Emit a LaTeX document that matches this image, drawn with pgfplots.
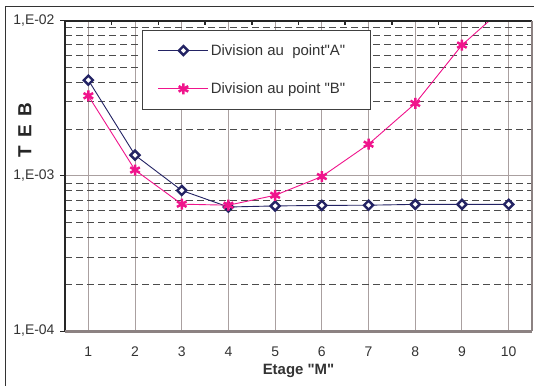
\documentclass[border=0pt]{standalone}
\usepackage{fontspec}
\setmainfont{Liberation Sans}[Ligatures=TeXOff]
\usepackage{pgfplots}
\pgfplotsset{compat=1.18}
\definecolor{navyA}{RGB}{35,35,100}
\definecolor{magB}{RGB}{240,20,140}
\definecolor{frameG}{RGB}{140,130,130}
\definecolor{gridG}{RGB}{170,160,160}
\begin{document}
\begin{tikzpicture}[x=1bp,y=1bp]
\useasboundingbox (0,0) rectangle (534,385);
\fill[white] (0,0) rectangle (534,385);
\draw[line width=1bp, black!80] (5,-5) -- (5,378) -- (540,378);
\begin{axis}[
  at={(65bp,54bp)}, anchor=south west,
  scale only axis, width=467bp, height=310.3bp,
  xmin=0.5, xmax=10.5,
  ymode=log, ymin=1e-4, ymax=1e-2,
  xtick={1,2,3,4,5,6,7,8,9,10},
  xticklabels={1,2,3,4,5,6,7,8,9,10},
  xtick pos=upper, xticklabel pos=lower,
  ytick pos=left,
  ytick={1e-4,1e-3,1e-2},
  yticklabels={{1,E-04},{1,E-03},{1,E-02}},
  minor ytick={2e-4,3e-4,4e-4,5e-4,6e-4,7e-4,8e-4,9e-4,2e-3,3e-3,4e-3,5e-3,6e-3,7e-3,8e-3,9e-3},
  tick align=outside,
  major tick length=5bp,
  minor tick length=0bp,
  major x tick style={draw=none},
  major y tick style={black!85, line width=1bp},
  extra x ticks={1.5,2.5,3.5,4.5,5.5,6.5,7.5,8.5,9.5},
  extra x tick labels={},
  extra x tick style={grid=none, tick align=inside, major tick length=4bp,
     major x tick style={draw=black!85, line width=1.5bp}},
  xmajorgrids, ymajorgrids, yminorgrids,
  major grid style={gridG, line width=1bp},
  minor grid style={black!70, line width=0.8bp, dash pattern=on 7bp off 4bp},
  axis line style={draw=none},
  clip mode=individual,
  tick label style={font=\fontsize{14}{16}\selectfont, text=black!80},
  xticklabel style={anchor=center, yshift=-16bp},
  yticklabel style={anchor=east, xshift=-2bp},
  xlabel={Etage "M"},
  ylabel={T\,\ E\,\ B},
  every axis x label/.style={at={(axis description cs:0.5,-0.13)}, anchor=center,
     font=\bfseries\fontsize{15}{17}\selectfont, text=black!80},
  every axis y label/.style={at={(axis description cs:-0.0857,0.648)}, rotate=90, anchor=center,
     font=\bfseries\fontsize{19}{21}\selectfont, text=black!85},
  legend style={at={(0.164,0.970)}, anchor=north west, draw=black!75, line width=0.8bp,
     fill=white, font=\fontsize{15}{17}\selectfont, text=black!80,
     inner xsep=16bp, inner ysep=12bp, row sep=22bp, cells={anchor=west}},
  legend image code/.code={\draw[mark repeat=2,mark phase=2,#1] plot coordinates {(0bp,0bp) (25bp,0bp) (50bp,0bp)};},
]
\addplot[color=navyA, line width=0.9bp, mark=square*, mark size=3.2bp,
  mark options={rotate=45, fill=white, draw=navyA, line width=2.4bp}]
  coordinates {(1,4.14e-3) (2,1.36e-3) (3,8.05e-4) (4,6.3e-4) (5,6.4e-4) (6,6.45e-4) (7,6.47e-4) (8,6.55e-4) (9,6.55e-4) (10,6.55e-4)};
\addlegendentry{Division au\ \ point"A"\hspace*{7bp}}
\addplot[color=magB, line width=0.9bp, mark=asterisk, mark size=5.5bp,
  mark options={line width=2.5bp, draw=magB}]
  coordinates {(1,3.28e-3) (2,1.09e-3) (3,6.57e-4) (4,6.47e-4) (5,7.5e-4) (6,9.9e-4) (7,1.6e-3) (8,2.93e-3) (9,6.97e-3) (10,1.29e-2)};
\addlegendentry{Division au point "B"}
\draw[line width=2bp, black!85] (rel axis cs:0,0) -- (rel axis cs:0,1) -- (rel axis cs:1,1);
\draw[line width=3bp, frameG] (rel axis cs:0,0) -- (rel axis cs:1,0);
\draw[line width=2bp, frameG] (rel axis cs:1,0) -- (rel axis cs:1,1);
\end{axis}
\end{tikzpicture}
\end{document}
